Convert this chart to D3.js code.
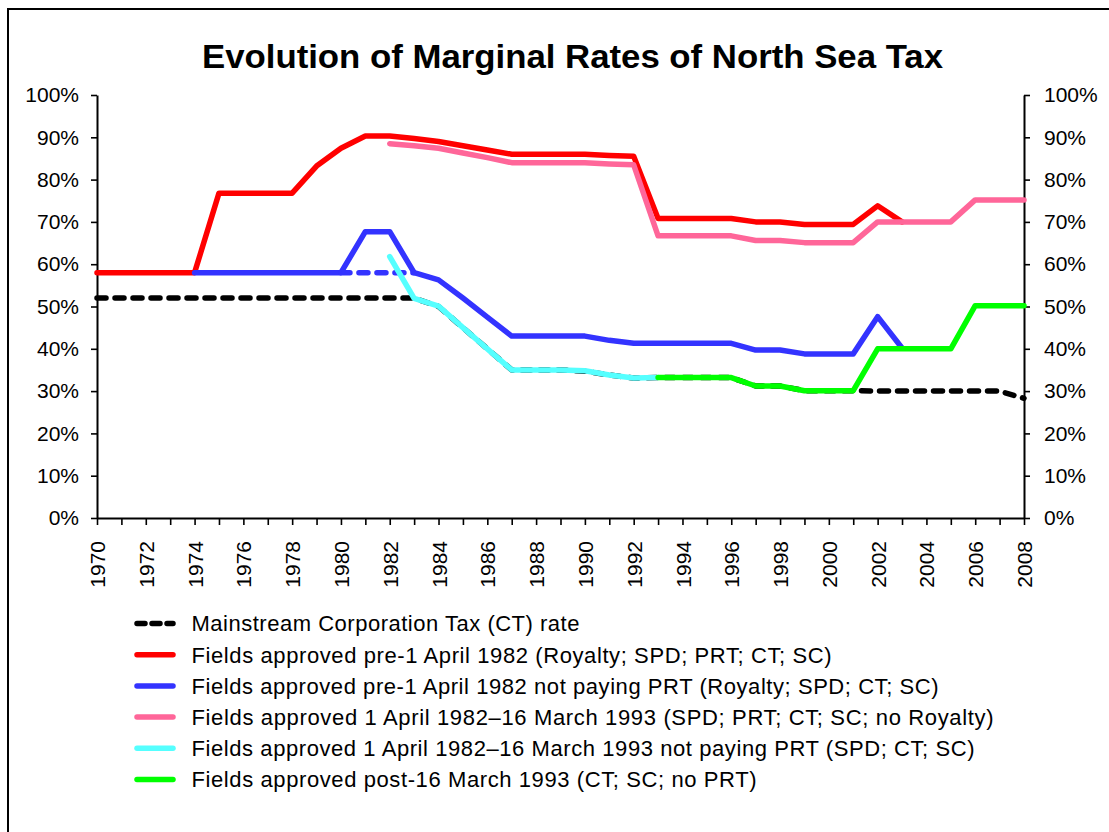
<!DOCTYPE html>
<html>
<head>
<meta charset="utf-8">
<script src="https://cdn.jsdelivr.net/npm/d3@7"></script>
<style>
  body { margin: 0; background: #fff; }
  svg { display: block; font-family: Arial, "Liberation Sans", sans-serif; }
</style>
</head>
<body>
<div id="chart"></div>
<script>
// years on the x axis
const years = [1970, 1971, 1972, 1973, 1974, 1975, 1976, 1977, 1978, 1979,
    1980, 1981, 1982, 1983, 1984, 1985, 1986, 1987, 1988, 1989,
    1990, 1991, 1992, 1993, 1994, 1995, 1996, 1997, 1998, 1999,
    2000, 2001, 2002, 2003, 2004, 2005, 2006, 2007, 2008];

const yearLabels = ["1970", "1972", "1974", "1976", "1978", "1980", "1982", "1984", "1986", "1988",
    "1990", "1992", "1994", "1996", "1998", "2000", "2002", "2004", "2006", "2008"];
const pctTicks = [0, 10, 20, 30, 40, 50, 60, 70, 80, 90, 100];

// series values in %, null = no value for that year
const ctRate = [52, 52, 52, 52, 52, 52, 52, 52, 52, 52,
    52, 52, 52, 52, 50, 45, 40, 35, 35, 35,
    34.7, 33.8, 33.1, 33.2, 33.2, 33.2, 33.2, 31.2, 31.2, 30.1,
    30.1, 30.1, 30, 30, 30, 30, 30, 30, 28.3];
const preApr82 = [58, 58, 58, 58, 58, 76.8, 76.8, 76.8, 76.8, 83.2,
    87.4, 90.3, 90.3, 89.7, 89.0, 88.0, 87.0, 86.0, 86.0, 86.0,
    86.0, 85.7, 85.5, 70.8, 70.8, 70.8, 70.8, 70.0, 70.0, 69.4,
    69.4, 69.4, 73.8, 70.0, null, null, null, null, null];
const preApr82NoPrt = [null, null, null, null, 58, 58, 58, 58, 58, 58,
    58, 67.7, 67.7, 58, 56.3, 52.0, 47.5, 43.0, 43.0, 43.0,
    43.0, 42.0, 41.3, 41.3, 41.3, 41.3, 41.3, 39.7, 39.7, 38.8,
    38.8, 38.8, 47.6, 40.2, null, null, null, null, null];
const preApr82NoPrtDash = [null, null, null, null, null, null, null, null, null, null,
    58, 58, 58, 58, null, null, null, null, null, null,
    null, null, null, null, null, null, null, null, null, null,
    null, null, null, null, null, null, null, null, null];
const apr82Mar93 = [null, null, null, null, null, null, null, null, null, null,
    null, null, 88.5, 88.0, 87.4, 86.3, 85.2, 84.0, 84.0, 84.0,
    84.0, 83.7, 83.5, 66.7, 66.7, 66.7, 66.7, 65.6, 65.6, 65.1,
    65.1, 65.1, 70.0, 70.0, 70.0, 70.0, 75.2, 75.2, 75.2];
const apr82Mar93NoPrt = [null, null, null, null, null, null, null, null, null, null,
    null, null, 61.8, 51.9, 50.1, 45.0, 40.0, 35.0, 35.0, 35.0,
    34.8, 33.8, 33.1, 33.2, null, null, null, null, null, null,
    null, null, null, null, null, null, null, null, null];
const postMar93 = [null, null, null, null, null, null, null, null, null, null,
    null, null, null, null, null, null, null, null, null, null,
    null, null, null, 33.2, 33.2, 33.2, 33.2, 31.2, 31.2, 30.1,
    30.1, 30.1, 40.0, 40.0, 40.0, 40.0, 50.2, 50.2, 50.2];

const legendLabels = [
    "Mainstream Corporation Tax (CT) rate",
    "Fields approved pre-1 April 1982 (Royalty; SPD; PRT; CT; SC)",
    "Fields approved pre-1 April 1982 not paying PRT (Royalty; SPD; CT; SC)",
    "Fields approved 1 April 1982\u201316 March 1993 (SPD; PRT; CT; SC; no Royalty)",
    "Fields approved 1 April 1982\u201316 March 1993 not paying PRT (SPD; CT; SC)",
    "Fields approved post-16 March 1993 (CT; SC; no PRT)"
];

// drawing setup
const width = 1109, height = 832;
const plot = { left: 97, right: 1024, top: 95, bottom: 518 };

const svg = d3.select("#chart").append("svg")
    .attr("width", width)
    .attr("height", height);

// outer frame
svg.append("rect")
    .attr("x", 8).attr("y", 9)
    .attr("width", 1120).attr("height", 840)
    .attr("fill", "#fff")
    .attr("stroke", "#000")
    .attr("stroke-width", 2);

svg.append("text")
    .attr("x", 572.5).attr("y", 68)
    .attr("text-anchor", "middle")
    .attr("font-size", 33)
    .attr("font-weight", "bold")
    .attr("textLength", 741)
    .attr("lengthAdjust", "spacingAndGlyphs")
    .text("Evolution of Marginal Rates of North Sea Tax");

const x = d3.scaleLinear().domain([1970, 2008]).range([plot.left, plot.right]);
const y = d3.scaleLinear().domain([0, 100]).range([plot.bottom, plot.top]);

// axes
const yLeft = svg.append("g")
    .attr("transform", "translate(" + plot.left + ",0)")
    .call(d3.axisLeft(y).tickValues(pctTicks).tickSize(6).tickSizeOuter(0).tickPadding(12)
        .tickFormat(function (d) { return d + "%"; }));
const yRight = svg.append("g")
    .attr("transform", "translate(" + plot.right + ",0)")
    .call(d3.axisRight(y).tickValues(pctTicks).tickSize(6).tickSizeOuter(0).tickPadding(14)
        .tickFormat(function (d) { return d + "%"; }));
const xAxis = svg.append("g")
    .attr("transform", "translate(0," + plot.bottom + ")")
    .call(d3.axisBottom(x).tickValues(years).tickSize(7).tickSizeOuter(0)
        .tickFormat(function (d) { return yearLabels.indexOf(String(d)) >= 0 ? String(d) : ""; }));

[yLeft, yRight, xAxis].forEach(function (g) {
    g.selectAll("path").attr("stroke", "#000").attr("stroke-width", 2);
    g.selectAll("line").attr("stroke", "#000").attr("stroke-width", 1.6);
    g.selectAll("text").attr("font-size", 21).attr("fill", "#000")
        .attr("font-family", "Arial, 'Liberation Sans', sans-serif");
});

xAxis.selectAll("text")
    .attr("transform", "rotate(-90)")
    .attr("text-anchor", "end")
    .attr("x", -23)
    .attr("y", 0)
    .attr("dy", "0.36em");

// lines
const series = [
    { values: ctRate, color: "#000000", dash: "9,9" },
    { values: preApr82, color: "#FF0000", dash: null },
    { values: preApr82NoPrt, color: "#3333FF", dash: null },
    { values: preApr82NoPrtDash, color: "#3333FF", dash: "9,9" },
    { values: apr82Mar93, color: "#FF6699", dash: null },
    { values: apr82Mar93NoPrt, color: "#55FFFF", dash: null },
    { values: postMar93, color: "#00FF00", dash: null }
];

const line = d3.line()
    .defined(function (d) { return d[1] !== null; })
    .x(function (d) { return x(d[0]); })
    .y(function (d) { return y(d[1]); });

series.forEach(function (s) {
    const pts = years.map(function (yr, i) { return [yr, s.values[i]]; });
    svg.append("path")
        .datum(pts)
        .attr("d", line)
        .attr("fill", "none")
        .attr("stroke", s.color)
        .attr("stroke-width", 5.5)
        .attr("stroke-linejoin", "round")
        .attr("stroke-linecap", "round")
        .attr("stroke-dasharray", s.dash);
});

// legend
const legendSeries = [series[0], series[1], series[2], series[4], series[5], series[6]];
const legendWidths = [388, 640, 747, 802, 783, 565];
const legend = svg.append("g");
legendSeries.forEach(function (s, i) {
    const ly = 623.5 + i * 31.2;
    legend.append("line")
        .attr("x1", 137).attr("x2", 173)
        .attr("y1", ly).attr("y2", ly)
        .attr("stroke", s.color)
        .attr("stroke-width", 5.5)
        .attr("stroke-linecap", "round")
        .attr("stroke-dasharray", s.dash ? "8,7" : null);
    legend.append("text")
        .attr("x", 191.5).attr("y", ly)
        .attr("dy", "0.36em")
        .attr("font-size", 22)
        .attr("textLength", legendWidths[i])
        .attr("lengthAdjust", "spacing")
        .text(legendLabels[i]);
});
</script>
</body>
</html>
